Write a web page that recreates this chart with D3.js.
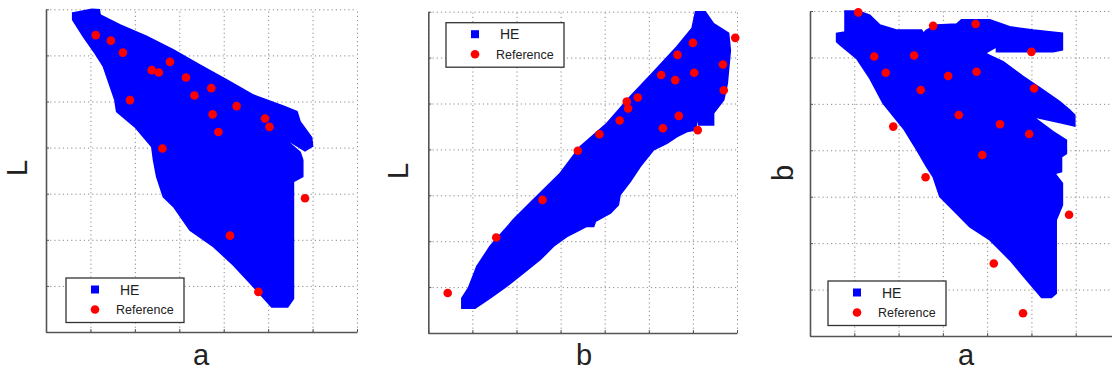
<!DOCTYPE html>
<html>
<head>
<meta charset="utf-8">
<script src="https://cdn.jsdelivr.net/npm/d3@7"></script>
<style>
  body { margin: 0; background: #fff; }
  svg { display: block; font-family: "Liberation Sans", Arial, sans-serif; }
</style>
</head>
<body>
<div id="chart"></div>
<script>
// grid units: every axis runs 0..7, one unit per grid cell (no tick labels in the source)
const gridTicks = [0, 1, 2, 3, 4, 5, 6, 7];

// panel 1: L vs a — HE gamut outline [a, L]
const heAL = [
  [0.60, 6.92], [1.03, 7.00], [1.20, 6.99], [1.22, 6.88], [1.67, 6.66], [2.27, 6.41],
  [2.87, 6.12], [3.47, 5.79], [4.07, 5.47], [4.67, 5.14], [5.35, 4.90], [5.65, 4.78],
  [5.72, 4.56], [5.98, 4.22], [6.00, 4.03], [5.83, 3.93], [5.31, 4.24], [5.72, 3.90],
  [5.78, 3.73], [5.78, 3.37], [5.57, 3.26], [5.57, 0.72], [5.44, 0.54], [5.08, 0.54],
  [4.67, 0.98], [4.22, 1.45], [3.77, 1.85], [3.24, 2.21], [2.87, 2.72], [2.64, 2.93],
  [2.49, 3.37], [2.42, 3.73], [2.38, 4.02], [2.00, 4.45], [1.59, 4.78], [1.55, 5.03],
  [1.29, 5.76], [1.10, 6.05], [0.84, 6.41], [0.60, 6.77]
];
const refAL = [
  [1.12, 6.44], [1.46, 6.32], [1.73, 6.06], [2.79, 5.86], [2.38, 5.68], [2.54, 5.63],
  [3.15, 5.52], [3.72, 5.29], [3.34, 5.13], [1.89, 5.03], [4.29, 4.90], [3.75, 4.72],
  [4.93, 4.63], [5.03, 4.45], [3.88, 4.34], [2.62, 3.98], [5.83, 2.90], [4.14, 2.09],
  [4.78, 0.87]
];

// panel 2: L vs b — [b, L]
const heBL = [
  [0.76, 0.76], [0.91, 0.98], [1.10, 1.45], [1.40, 1.89], [1.93, 2.47], [2.38, 2.90],
  [2.99, 3.48], [3.44, 4.06], [4.05, 4.57], [4.58, 5.15], [5.11, 5.69], [5.64, 6.24],
  [5.98, 6.64], [6.06, 7.00], [6.28, 7.00], [6.47, 6.74], [6.81, 6.53], [6.85, 6.16],
  [6.78, 5.44], [6.70, 5.08], [6.47, 4.79], [6.47, 4.53], [6.13, 4.53], [6.11, 4.75],
  [6.06, 4.42], [5.87, 4.39], [5.64, 4.28], [5.41, 4.13], [5.11, 3.99], [4.81, 3.63],
  [4.58, 3.30], [4.35, 3.01], [4.31, 2.79], [4.13, 2.61], [3.79, 2.43], [3.75, 2.32],
  [3.58, 2.32], [3.44, 2.25], [3.14, 2.10], [2.84, 1.89], [2.54, 1.60], [2.16, 1.31],
  [1.78, 1.02], [1.40, 0.76], [1.06, 0.54], [0.76, 0.54]
];
const refBL = [
  [0.44, 0.87], [1.54, 2.08], [2.59, 2.90], [3.39, 3.97], [3.88, 4.33], [4.34, 4.63],
  [4.53, 4.89], [4.50, 5.04], [4.75, 5.13], [5.28, 5.62], [5.60, 5.51], [5.65, 6.06],
  [6.00, 6.32], [6.03, 5.67], [5.68, 4.73], [5.32, 4.46], [6.11, 4.42], [6.68, 5.85],
  [6.70, 5.29], [6.96, 6.43]
];

// panel 3: b vs a — [a, b]
const heAB = [
  [0.79, 7.00], [1.09, 7.00], [1.35, 6.91], [1.58, 6.70], [1.95, 6.59], [2.52, 6.59],
  [2.56, 6.52], [2.63, 6.59], [2.86, 6.70], [3.31, 6.72], [3.42, 6.81], [4.06, 6.81],
  [4.51, 6.66], [5.04, 6.59], [5.70, 6.52], [5.70, 6.16], [5.49, 6.12], [4.21, 6.12],
  [4.21, 6.23], [3.95, 6.09], [4.36, 5.91], [4.81, 5.59], [5.26, 5.30], [5.64, 5.05],
  [5.86, 4.87], [5.98, 4.76], [5.98, 4.52], [5.71, 4.58], [5.04, 4.72], [5.49, 4.40],
  [5.79, 4.22], [5.79, 3.93], [5.68, 3.86], [5.68, 3.54], [5.53, 3.50], [5.70, 3.29],
  [5.70, 2.82], [5.56, 2.50], [5.56, 0.92], [5.45, 0.83], [5.23, 0.83], [4.96, 1.13],
  [4.51, 1.64], [4.06, 2.07], [3.61, 2.35], [3.31, 2.64], [2.93, 3.00], [2.78, 3.43],
  [2.63, 3.65], [2.41, 4.01], [2.11, 4.47], [1.65, 5.01], [1.35, 5.55], [1.05, 5.98],
  [0.68, 6.27], [0.60, 6.34], [0.60, 6.52], [0.79, 6.55]
];
const refAB = [
  [1.09, 6.97], [2.78, 6.68], [3.74, 6.72], [5.00, 6.12], [1.45, 6.02], [2.35, 6.04],
  [1.71, 5.67], [3.12, 5.60], [3.76, 5.69], [2.50, 5.30], [5.06, 5.33], [3.36, 4.76],
  [1.88, 4.51], [4.29, 4.56], [4.95, 4.35], [3.89, 3.90], [2.61, 3.42], [5.85, 2.61],
  [4.15, 1.56], [4.81, 0.49]
];

const legendLabels = ['HE', 'Reference'];

const panels = [
  { he: heAL, ref: refAL, xLabel: 'a', yLabel: 'L',
    x: [46, 357], y: [332, 9.3], legend: [66, 278], xl: [201, 365], yl: [27, 168] },
  { he: heBL, ref: refBL, xLabel: 'b', yLabel: 'L',
    x: [428.3, 737], y: [333, 11.7], legend: [446, 22.7], xl: [584, 365], yl: [408, 171] },
  { he: heAB, ref: refAB, xLabel: 'a', yLabel: 'b',
    x: [810, 1120], y: [336, 11], legend: [828, 281], xl: [966, 365], yl: [793, 173] }
];

const W = 1112, H = 372;
const svg = d3.select('#chart').append('svg').attr('width', W).attr('height', H);

panels.forEach(p => {
  const x = d3.scaleLinear().domain([0, 7]).range(p.x);
  const y = d3.scaleLinear().domain([0, 7]).range(p.y);
  const g = svg.append('g');

  // dotted grid
  g.append('g')
    .attr('transform', `translate(0,${p.y[0]})`)
    .call(d3.axisBottom(x).tickValues(gridTicks).tickSize(p.y[1] - p.y[0]).tickFormat(''))
    .call(s => s.select('.domain').remove())
    .selectAll('line').attr('stroke', '#8a8a8a').attr('stroke-dasharray', '1.2,3');
  g.append('g')
    .attr('transform', `translate(${p.x[0]},0)`)
    .call(d3.axisLeft(y).tickValues(gridTicks).tickSize(p.x[0] - p.x[1]).tickFormat(''))
    .call(s => s.select('.domain').remove())
    .selectAll('line').attr('stroke', '#8a8a8a').attr('stroke-dasharray', '1.2,3');

  // HE gamut
  const line = d3.line().x(d => x(d[0])).y(d => y(d[1])).curve(d3.curveLinearClosed);
  g.append('path').datum(p.he)
    .attr('d', line)
    .attr('fill', '#0000ff')
    .attr('stroke', '#0000ff')
    .attr('stroke-width', 1.5)
    .attr('stroke-linejoin', 'miter');

  // reference points
  g.selectAll('circle.ref')
    .data(p.ref)
    .enter()
    .append('circle')
    .attr('class', 'ref')
    .attr('cx', d => x(d[0]))
    .attr('cy', d => y(d[1]))
    .attr('r', 4.3)
    .attr('fill', '#ff0000');

  // axes (left + bottom, small inward ticks)
  const bottom = g.append('g')
    .attr('transform', `translate(0,${p.y[0]})`)
    .call(d3.axisBottom(x).tickValues(gridTicks).tickSize(-3).tickSizeOuter(0).tickFormat(''));
  const left = g.append('g')
    .attr('transform', `translate(${p.x[0]},0)`)
    .call(d3.axisLeft(y).tickValues(gridTicks).tickSize(-3).tickSizeOuter(0).tickFormat(''));
  [bottom, left].forEach(a => {
    a.select('.domain').attr('stroke', '#555').attr('stroke-width', 1.6);
    a.selectAll('.tick line').attr('stroke', '#555');
  });

  // axis labels
  g.append('text')
    .attr('x', p.xl[0]).attr('y', p.xl[1])
    .attr('text-anchor', 'middle')
    .style('font-size', '29px')
    .attr('fill', '#222')
    .text(p.xLabel);
  g.append('text')
    .attr('transform', `translate(${p.yl[0]},${p.yl[1]}) rotate(-90)`)
    .attr('text-anchor', 'middle')
    .style('font-size', '29px')
    .attr('fill', '#222')
    .text(p.yLabel);

  // legend
  const lg = g.append('g').attr('transform', `translate(${p.legend[0]},${p.legend[1]})`);
  lg.append('rect')
    .attr('width', 118).attr('height', 44.5)
    .attr('fill', '#fff').attr('stroke', '#333').attr('stroke-width', 1.3);
  lg.append('rect')
    .attr('x', 25).attr('y', 7.5).attr('width', 8).attr('height', 8)
    .attr('fill', '#0000ff');
  lg.append('circle')
    .attr('cx', 29).attr('cy', 31.5).attr('r', 4.3)
    .attr('fill', '#ff0000');
  lg.append('text')
    .attr('x', 54).attr('y', 16.5)
    .style('font-size', '14px').attr('fill', '#222')
    .text(legendLabels[0]);
  lg.append('text')
    .attr('x', 50).attr('y', 36)
    .style('font-size', '12.5px').attr('fill', '#222')
    .text(legendLabels[1]);
});
</script>
</body>
</html>
